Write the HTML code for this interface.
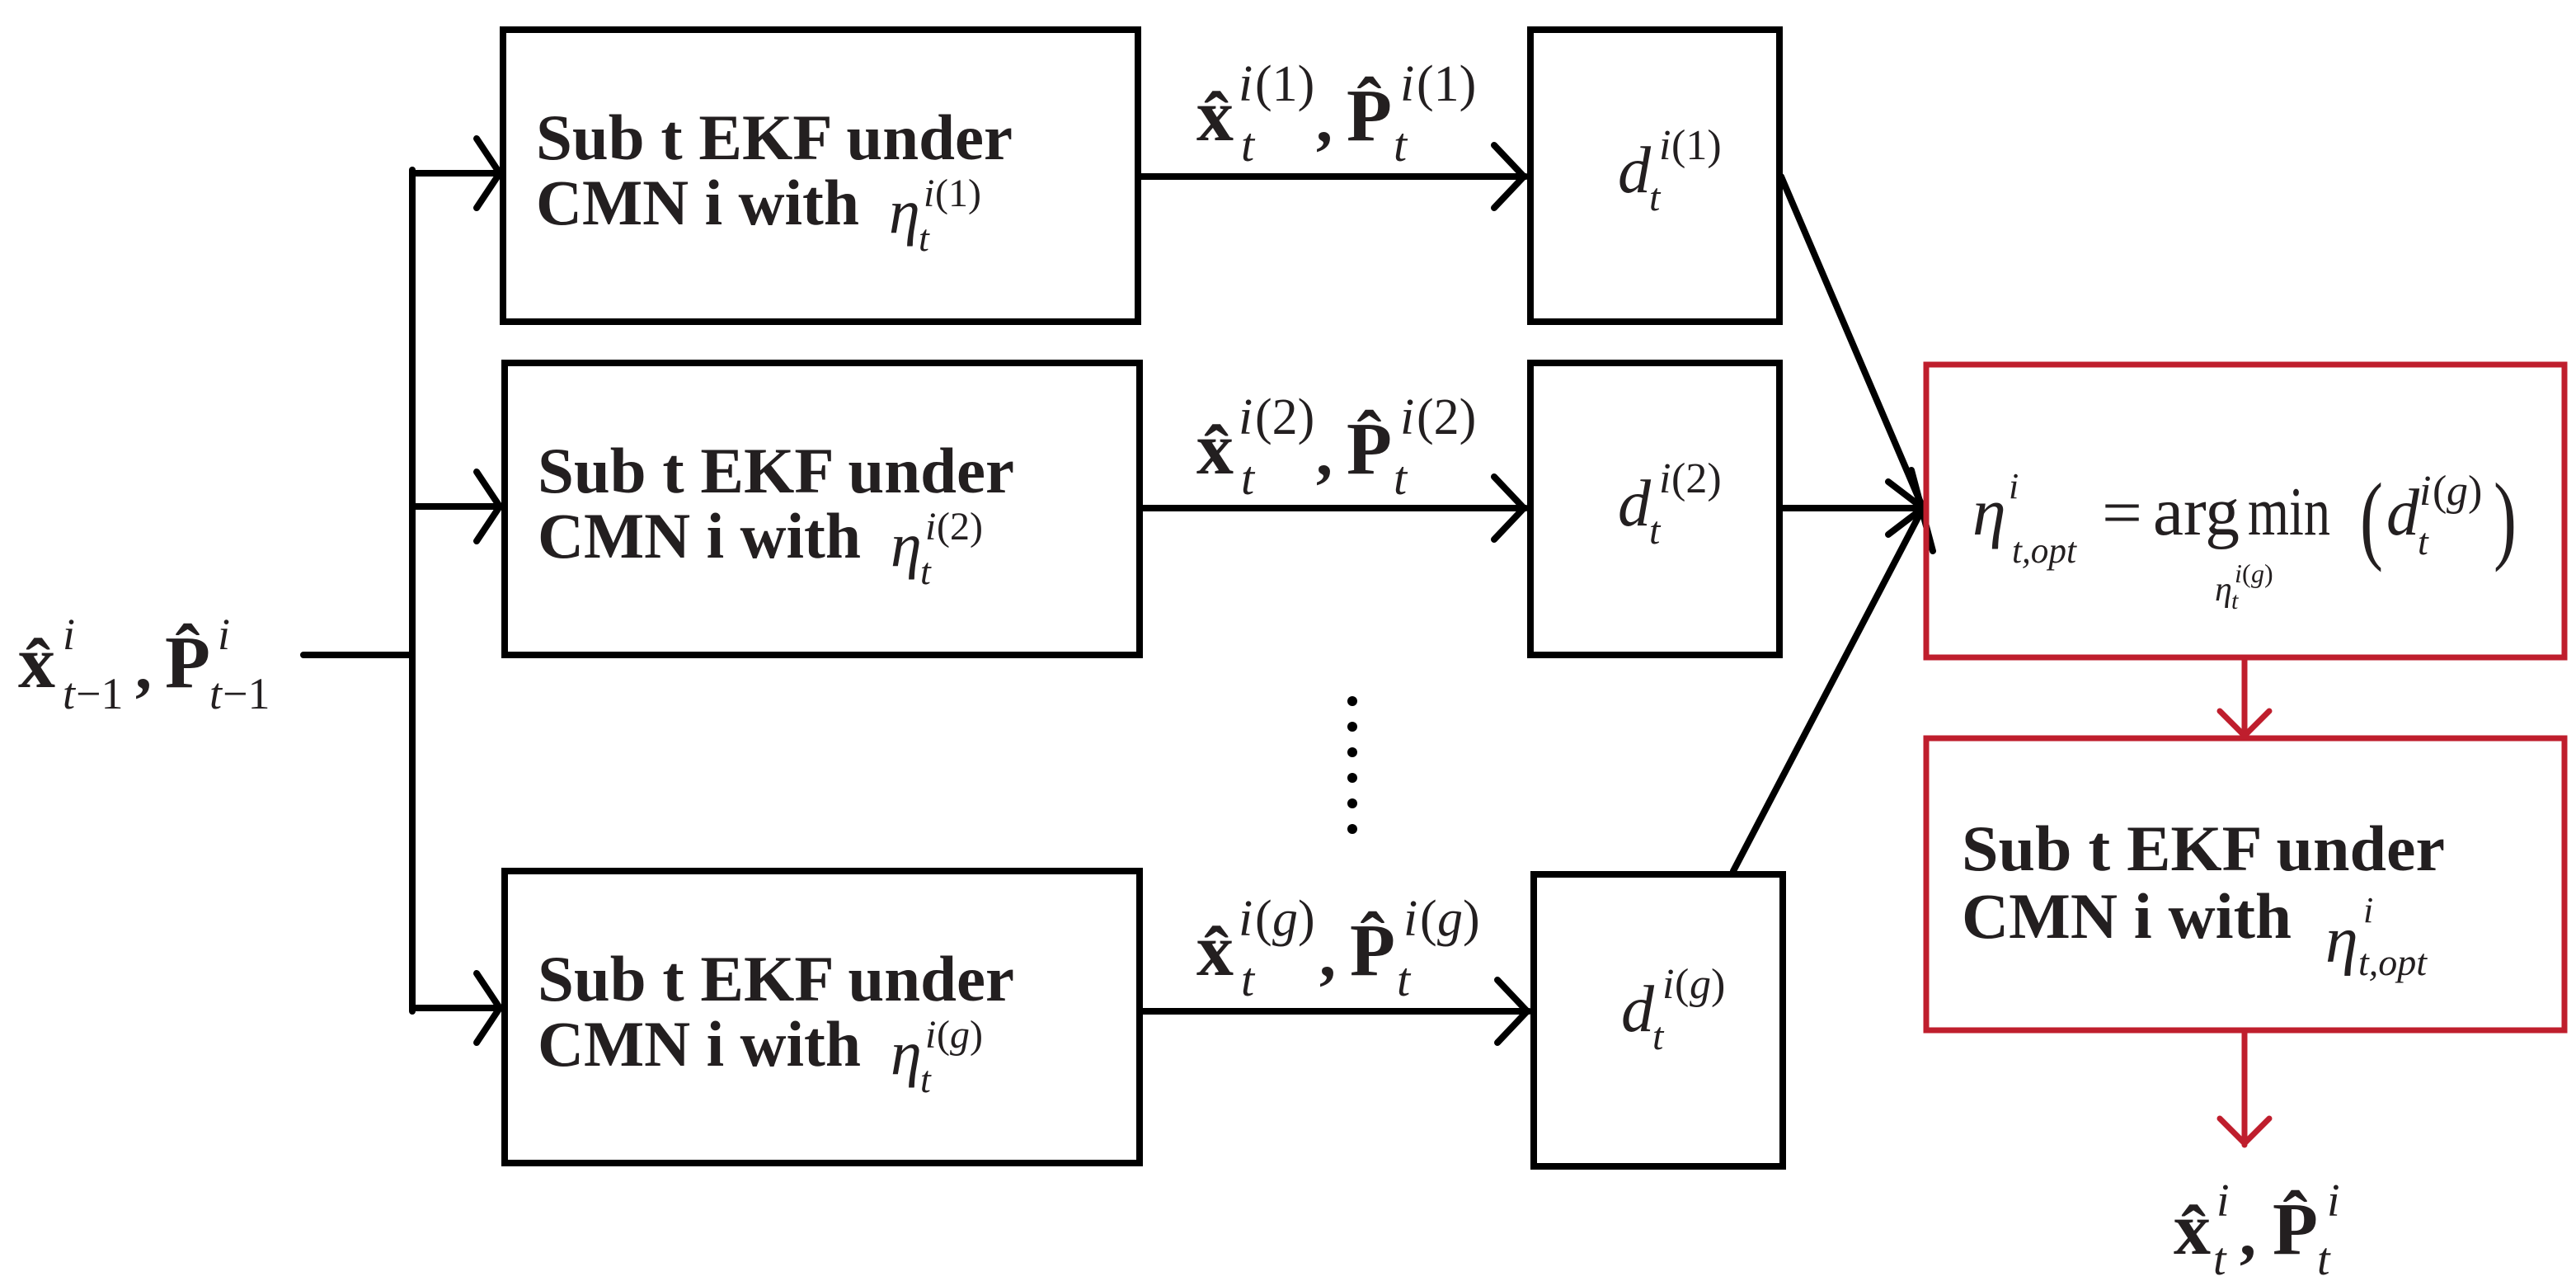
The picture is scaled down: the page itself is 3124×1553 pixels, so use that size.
<!DOCTYPE html>
<html><head><meta charset="utf-8"><style>
html,body{margin:0;padding:0;background:#fff}
svg{display:block}
.b{font-family:"Liberation Serif",serif;font-weight:bold;fill:#231f20}
.m{font-family:"Liberation Serif",serif;font-style:italic;fill:#231f20}
.r{font-family:"Liberation Serif",serif;fill:#231f20}
</style></head><body>
<svg width="3124" height="1553" viewBox="0 0 3124 1553" xmlns="http://www.w3.org/2000/svg">
<g fill="none" stroke="#000" stroke-width="8" stroke-linecap="round">
 <line x1="368" y1="794" x2="500" y2="794"/>
 <line x1="500" y1="206" x2="500" y2="1226"/>
 <line x1="500" y1="210" x2="608" y2="210"/>
 <line x1="500" y1="614" x2="608" y2="614"/>
 <line x1="500" y1="1222" x2="608" y2="1222"/>
 <polyline points="578,168 606,210 578,252"/>
 <polyline points="578,572 606,614 578,656"/>
 <polyline points="578,1180 606,1222 578,1264"/>
 <rect x="610" y="36" width="770" height="354"/>
 <rect x="612" y="440" width="770" height="354"/>
 <rect x="612" y="1056" width="770" height="354"/>
 <line x1="1380" y1="214" x2="1850" y2="214"/>
 <line x1="1382" y1="616" x2="1850" y2="616"/>
 <line x1="1382" y1="1226" x2="1854" y2="1226"/>
 <polyline points="1812,176 1848,214 1812,252"/>
 <polyline points="1812,578 1848,616 1812,654"/>
 <polyline points="1816,1188 1852,1226 1816,1264"/>
 <rect x="1856" y="36" width="302" height="354"/>
 <rect x="1856" y="440" width="302" height="354"/>
 <rect x="1860" y="1060" width="302" height="354"/>
 <line x1="2160" y1="214" x2="2332" y2="616"/>
 <line x1="2160" y1="616" x2="2332" y2="616"/>
 <line x1="2102" y1="1056" x2="2332" y2="616"/>
 <polyline points="2290,584 2332,616 2290,648"/>
 <line x1="2318" y1="570" x2="2344" y2="668"/>
</g>
<g fill="#000">
 <circle cx="1640" cy="850" r="6"/><circle cx="1640" cy="881" r="6"/><circle cx="1640" cy="912" r="6"/>
 <circle cx="1640" cy="943" r="6"/><circle cx="1640" cy="974" r="6"/><circle cx="1640" cy="1005" r="6"/>
</g>
<g fill="none" stroke="#bf1e2d" stroke-width="7" stroke-linecap="round">
 <rect x="2336" y="442" width="774" height="355"/>
 <rect x="2336" y="895" width="774" height="354"/>
 <line x1="2722" y1="797" x2="2722" y2="893"/>
 <polyline points="2692,862 2722,892 2752,862"/>
 <line x1="2722" y1="1249" x2="2722" y2="1388"/>
 <polyline points="2692,1356 2722,1386 2752,1356"/>
</g>
<g class="b" font-size="78">
 <text x="650" y="193" textLength="578" lengthAdjust="spacingAndGlyphs">Sub t EKF under</text>
 <text x="650" y="272" textLength="392" lengthAdjust="spacingAndGlyphs">CMN i with</text>
 <text x="652" y="597" textLength="578" lengthAdjust="spacingAndGlyphs">Sub t EKF under</text>
 <text x="652" y="676" textLength="392" lengthAdjust="spacingAndGlyphs">CMN i with</text>
 <text x="652" y="1213" textLength="578" lengthAdjust="spacingAndGlyphs">Sub t EKF under</text>
 <text x="652" y="1292" textLength="392" lengthAdjust="spacingAndGlyphs">CMN i with</text>
 <text x="2379" y="1055" textLength="586" lengthAdjust="spacingAndGlyphs">Sub t EKF under</text>
 <text x="2379" y="1137" textLength="400" lengthAdjust="spacingAndGlyphs">CMN i with</text>
</g>
<g>
 <text class="m" x="1078" y="282" font-size="76">η</text>
 <text class="m" x="1120" y="250" font-size="48">i</text><text class="r" x="1134" y="250" font-size="48">(1)</text>
 <text class="m" x="1114" y="304" font-size="46">t</text>
 <text class="m" x="1080" y="686" font-size="76">η</text>
 <text class="m" x="1122" y="654" font-size="48">i</text><text class="r" x="1136" y="654" font-size="48">(2)</text>
 <text class="m" x="1116" y="708" font-size="46">t</text>
 <text class="m" x="1080" y="1302" font-size="76">η</text>
 <text class="m" x="1122" y="1270" font-size="48">i</text><text class="r" x="1136" y="1270" font-size="48">(</text><text class="m" x="1152" y="1270" font-size="48">g</text><text class="r" x="1176" y="1270" font-size="48">)</text>
 <text class="m" x="1116" y="1324" font-size="46">t</text>
</g>
<g>
 <text class="b" x="1451" y="170" font-size="90">x̂</text>
 <text class="m" x="1502" y="122" font-size="62">i</text><text class="r" x="1522" y="122" font-size="62">(1)</text>
 <text class="m" x="1505" y="195" font-size="58">t</text>
 <text class="b" x="1596" y="172" font-size="80">,</text>
 <text class="b" x="1633" y="170" font-size="90">P̂</text>
 <text class="m" x="1698" y="122" font-size="62">i</text><text class="r" x="1718" y="122" font-size="62">(1)</text>
 <text class="m" x="1690" y="195" font-size="58">t</text>

 <text class="b" x="1451" y="574" font-size="90">x̂</text>
 <text class="m" x="1502" y="526" font-size="62">i</text><text class="r" x="1522" y="526" font-size="62">(2)</text>
 <text class="m" x="1505" y="599" font-size="58">t</text>
 <text class="b" x="1596" y="576" font-size="80">,</text>
 <text class="b" x="1633" y="574" font-size="90">P̂</text>
 <text class="m" x="1698" y="526" font-size="62">i</text><text class="r" x="1718" y="526" font-size="62">(2)</text>
 <text class="m" x="1690" y="599" font-size="58">t</text>

 <text class="b" x="1451" y="1182" font-size="90">x̂</text>
 <text class="m" x="1502" y="1134" font-size="62">i</text><text class="r" x="1522" y="1134" font-size="62">(</text><text class="m" x="1543" y="1134" font-size="62">g</text><text class="r" x="1574" y="1134" font-size="62">)</text>
 <text class="m" x="1505" y="1207" font-size="58">t</text>
 <text class="b" x="1600" y="1184" font-size="80">,</text>
 <text class="b" x="1637" y="1182" font-size="90">P̂</text>
 <text class="m" x="1702" y="1134" font-size="62">i</text><text class="r" x="1722" y="1134" font-size="62">(</text><text class="m" x="1743" y="1134" font-size="62">g</text><text class="r" x="1774" y="1134" font-size="62">)</text>
 <text class="m" x="1694" y="1207" font-size="58">t</text>
</g>
<g>
 <text class="m" x="1962" y="233" font-size="80">d</text>
 <text class="m" x="2012" y="193" font-size="52">i</text><text class="r" x="2027" y="193" font-size="52">(1)</text>
 <text class="m" x="2000" y="255" font-size="48">t</text>
 <text class="m" x="1962" y="637" font-size="80">d</text>
 <text class="m" x="2012" y="597" font-size="52">i</text><text class="r" x="2027" y="597" font-size="52">(2)</text>
 <text class="m" x="2000" y="659" font-size="48">t</text>
 <text class="m" x="1966" y="1250" font-size="80">d</text>
 <text class="m" x="2016" y="1210" font-size="52">i</text><text class="r" x="2031" y="1210" font-size="52">(</text><text class="m" x="2049" y="1210" font-size="52">g</text><text class="r" x="2075" y="1210" font-size="52">)</text>
 <text class="m" x="2004" y="1272" font-size="48">t</text>
</g>
<g>
 <text class="b" x="22" y="833" font-size="90">x̂</text>
 <text class="m" x="76" y="787" font-size="54">i</text>
 <text class="m" x="76" y="859" font-size="54">t</text><text class="r" x="92" y="859" font-size="54">−1</text>
 <text class="b" x="164" y="835" font-size="80">,</text>
 <text class="b" x="200" y="833" font-size="90">P̂</text>
 <text class="m" x="264" y="787" font-size="54">i</text>
 <text class="m" x="254" y="859" font-size="54">t</text><text class="r" x="270" y="859" font-size="54">−1</text>
</g>
<g>
 <text class="m" x="2392" y="648" font-size="82">η</text>
 <text class="m" x="2436" y="604" font-size="44">i</text>
 <text class="m" x="2440" y="682" font-size="44" textLength="78" lengthAdjust="spacingAndGlyphs">t,opt</text>
 <text class="r" x="2549" y="648" font-size="80" textLength="49" lengthAdjust="spacingAndGlyphs">=</text>
 <text class="r" x="2611" y="648" font-size="84" textLength="105" lengthAdjust="spacingAndGlyphs">arg</text>
 <text class="r" x="2726" y="648" font-size="84" textLength="100" lengthAdjust="spacingAndGlyphs">min</text>
 <text class="r" x="2862" y="668" font-size="120" textLength="28" lengthAdjust="spacingAndGlyphs">(</text>
 <text class="m" x="2894" y="648" font-size="80">d</text>
 <text class="m" x="2934" y="612" font-size="52">i</text><text class="r" x="2950" y="612" font-size="52">(</text><text class="m" x="2967" y="612" font-size="52">g</text><text class="r" x="2993" y="612" font-size="52">)</text>
 <text class="m" x="2932" y="672" font-size="46">t</text>
 <text class="r" x="3024" y="668" font-size="120" textLength="28" lengthAdjust="spacingAndGlyphs">)</text>
 <text class="m" x="2686" y="728" font-size="42">η</text>
 <text class="m" x="2710" y="706" font-size="32">i</text><text class="r" x="2719" y="706" font-size="32">(</text><text class="m" x="2730" y="706" font-size="32">g</text><text class="r" x="2746" y="706" font-size="32">)</text>
 <text class="m" x="2706" y="738" font-size="30">t</text>
</g>
<g>
 <text class="m" x="2820" y="1166" font-size="80">η</text>
 <text class="m" x="2866" y="1118" font-size="44">i</text>
 <text class="m" x="2860" y="1182" font-size="46">t,opt</text>
</g>
<g>
 <text class="b" x="2636" y="1520" font-size="90">x̂</text>
 <text class="m" x="2688" y="1474" font-size="56">i</text>
 <text class="m" x="2684" y="1545" font-size="56">t</text>
 <text class="b" x="2716" y="1522" font-size="80">,</text>
 <text class="b" x="2756" y="1520" font-size="90">P̂</text>
 <text class="m" x="2822" y="1474" font-size="56">i</text>
 <text class="m" x="2810" y="1545" font-size="56">t</text>
</g>
</svg>
</body></html>
